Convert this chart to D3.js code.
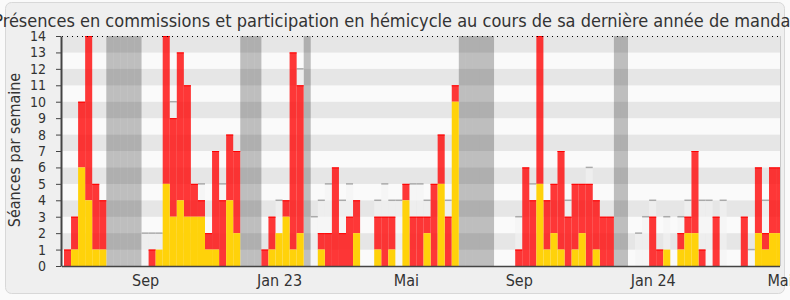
<!DOCTYPE html>
<html><head><meta charset="utf-8">
<script src="https://cdn.jsdelivr.net/npm/d3@7/dist/d3.min.js"></script>
<style>body{margin:0;background:#fafafa;overflow:hidden}</style>
</head><body>
<script>
// ---- data (one entry per week) ----
const hemicycle = [0,1,6,4,1,1, 0,0,0,0,0, 0,0,1,5,3,4,3,3,3,1,1,0,4,2, 0,0,0, 0,1,2,3,1,2, 0, 0,1,0,0,0,0,2,0,0,1,0,1,0,4,0,0,2,0,5,0,10, 0,0,0,0,0, 0,0,0,0,0,0,5,1,2,1,0,1,2,0,1,0,0, 0,0, 0,0,0,0,0,1,0,1,2,2,0,0,0,0,0,0,0,0,2,1,2,2];
const commission = [1,2,4,10,4,3, 0,0,0,0,0, 0,1,0,9,6,9,8,2,1,1,6,4,4,5, 0,0,0, 1,2,0,1,12,9, 0, 0,1,2,6,2,3,2,0,0,2,3,2,0,1,3,3,1,5,3,3,1, 0,0,0,0,0, 0,0,0,1,6,4,9,3,3,6,3,4,3,5,3,3,3, 0,0, 0,0,0,3,1,0,0,1,1,5,1,0,3,0,0,0,3,0,4,1,4,4];
const mediane = [0,0,0,0,0,0, 0,0,0,0,0, 2,2,2,0,10,0,0,0,5,0,0,5,0,0, 0,0,0, 0,0,4,0,0,12, 0, 3,4,5,0,4,5,0,0,0,4,5,4,4,0,5,5,4,0,0,4,0, 0,0,0,0,0, 0,0,0,3,0,5,0,0,0,0,4,0,0,6,0,0,0, 0,0, 0,2,3,4,0,3,0,3,4,0,4,4,0,4,0,0,0,1,0,4,0,0];
const vacances = [6,7,8,9,10,25,26,27,34,56,57,58,59,60,78,79];
const yTicks = d3.range(0, 15);
const monthLabels = ["Sep","Jan 23","Mai","Sep","Jan 24","Mai"];
const monthWeeks = [11,30,48,64,83,101];
const title = "Présences en commissions et participation en hémicycle au cours de sa dernière année de mandat";
const yTitle = "Séances par semaine";

const W = 790, H = 300;
const plot = {left: 62, right: 780, top: 36, bottom: 266};
const nWeeks = hemicycle.length;
const FONT = "'DejaVu Sans Condensed','DejaVu Sans',sans-serif";

const svg = d3.select("body").append("svg").attr("width", W).attr("height", H)
  .style("font-family", FONT);

svg.append("rect").attr("x", 5.5).attr("y", 2.5).attr("width", 779).attr("height", 291)
  .attr("rx", 6).attr("fill", "#efefef").attr("stroke", "#d8d8d8");

const x = d3.scaleLinear().domain([0, 102]).range([64, 64 + 7.05 * 102]);
const y = d3.scaleLinear().domain([0, 14]).range([plot.bottom, plot.top]);
const bw = d => x(d.i + 1) - x(d.i);

svg.append("clipPath").attr("id", "pc").append("rect")
  .attr("x", plot.left).attr("y", plot.top - 1).attr("width", plot.right - plot.left).attr("height", plot.bottom - plot.top + 1);

const g = svg.append("g").attr("clip-path", "url(#pc)");

// stripes
g.selectAll("rect.band").data(d3.range(0, 14)).join("rect").attr("class", "band")
  .attr("x", plot.left).attr("width", plot.right - plot.left)
  .attr("y", d => y(d + 1)).attr("height", d => y(d) - y(d + 1))
  .attr("fill", d => d % 2 === 1 ? "#e6e6e6" : "#fafafa");

// vacation weeks
g.selectAll("rect.vac").data(vacances).join("rect").attr("class", "vac")
  .attr("x", d => x(d)).attr("width", x(1) - x(0))
  .attr("y", plot.top).attr("height", plot.bottom - plot.top)
  .attr("fill", "rgba(0,0,0,0.24)");

const weeks = d3.range(nWeeks).map(i => ({
  i, hem: hemicycle[i], com: commission[i], tot: hemicycle[i] + commission[i], med: mediane[i]
}));

// median bars
const med = weeks.filter(d => d.med > 0);
g.selectAll("rect.med").data(med).join("rect").attr("class", "med")
  .attr("x", d => x(d.i)).attr("width", bw)
  .attr("y", d => y(d.med)).attr("height", d => y(0) - y(d.med))
  .attr("fill", "rgba(244,244,244,0.6)");
g.selectAll("line.med").data(med).join("line").attr("class", "med")
  .attr("x1", d => x(d.i)).attr("x2", d => x(d.i + 1))
  .attr("y1", d => y(d.med)).attr("y2", d => y(d.med))
  .attr("stroke", "#aaa").attr("stroke-width", 1.5);

// commission (red) stacked on hemicycle
const red = weeks.filter(d => d.com > 0);
g.selectAll("rect.red").data(red).join("rect").attr("class", "red")
  .attr("x", d => x(d.i)).attr("width", bw)
  .attr("y", d => y(d.tot)).attr("height", d => y(d.hem) - y(d.tot))
  .attr("fill", "rgba(255,0,0,0.78)");
g.selectAll("line.red").data(red).join("line").attr("class", "red")
  .attr("x1", d => x(d.i)).attr("x2", d => x(d.i + 1))
  .attr("y1", d => y(d.tot) + 0.5).attr("y2", d => y(d.tot) + 0.5)
  .attr("stroke", "#ff0000").attr("stroke-width", 1);

// hemicycle (yellow)
const yel = weeks.filter(d => d.hem > 0);
g.selectAll("rect.yel").data(yel).join("rect").attr("class", "yel")
  .attr("x", d => x(d.i)).attr("width", bw)
  .attr("y", d => y(d.hem)).attr("height", d => y(0) - y(d.hem))
  .attr("fill", "#ffd20a");

// top dotted line
svg.append("line").attr("x1", plot.left).attr("x2", plot.right)
  .attr("y1", plot.top + 0.5).attr("y2", plot.top + 0.5)
  .attr("stroke", "#000").attr("stroke-dasharray", "1,4");
// right border
svg.append("line").attr("x1", plot.right + 0.5).attr("x2", plot.right + 0.5)
  .attr("y1", plot.top).attr("y2", plot.bottom)
  .attr("stroke", "#c8c8c8");

// y axis
const ya = svg.append("g").attr("transform", `translate(${plot.left - 1},0)`)
  .call(d3.axisLeft(y).tickValues(yTicks).tickSize(5).tickSizeOuter(0).tickPadding(10));
ya.select(".domain").attr("stroke", "#444").attr("stroke-width", 2);
ya.selectAll(".tick line").attr("stroke", "#444");
ya.selectAll("text").attr("font-size", 14).attr("fill", "#333").style("font-family", FONT);

// x axis
const xa = svg.append("g").attr("transform", `translate(0,${plot.bottom})`)
  .call(d3.axisBottom(x).tickValues(monthWeeks.map(w => w + 0.5))
    .tickFormat((d, i) => monthLabels[i]).tickSize(0).tickPadding(9));
xa.select(".domain").attr("d", `M${plot.left},0.5H${plot.right}`).attr("stroke", "#444").attr("stroke-width", 1.5);
xa.selectAll("text").attr("font-size", 16).attr("fill", "#333").style("font-family", FONT);

// titles
svg.append("text").attr("x", 395).attr("y", 27).attr("text-anchor", "middle")
  .attr("font-size", 18).attr("fill", "#333").text(title);
svg.append("text").attr("transform", `translate(20,150) rotate(-90)`)
  .attr("text-anchor", "middle").attr("font-size", 16).attr("fill", "#333").text(yTitle);
</script>
</body></html>
